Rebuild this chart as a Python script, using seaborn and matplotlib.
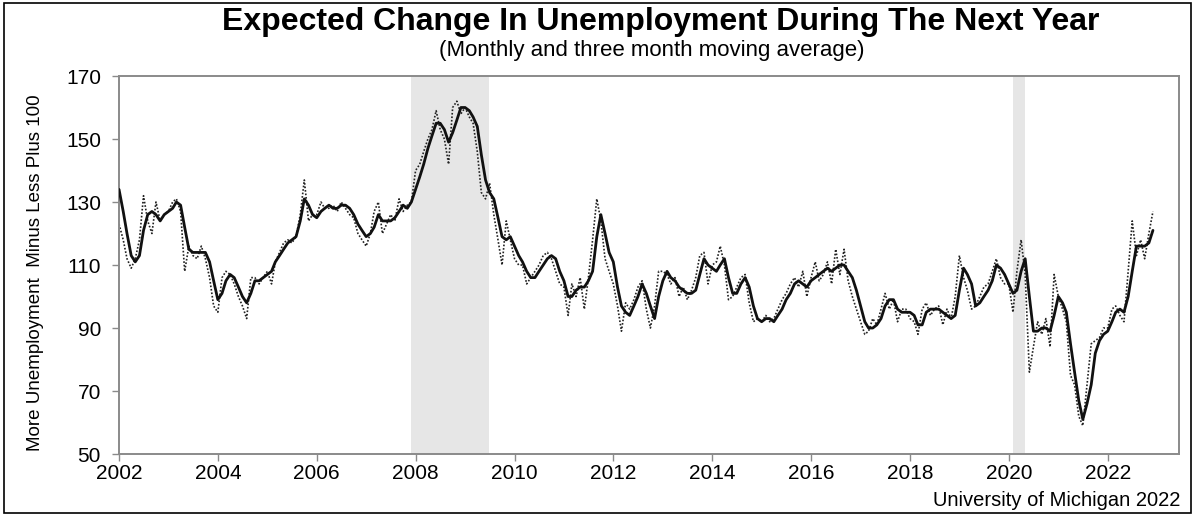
import matplotlib
matplotlib.use("Agg")
import matplotlib.pyplot as plt
import matplotlib.dates as mdates
from matplotlib.patches import Rectangle
import seaborn as sns
import pandas as pd

# ==========================
# Data (Jan 2002 - Dec 2022)
# ==========================
start_month = "2002-01-01"

# three month moving average (solid line)
avg_3m = [
    134, 127, 120, 113, 111, 113, 121, 126, 127, 126, 124, 126,  # 2002
    127, 128, 130, 129, 122, 115, 114, 114, 114, 114, 111, 105,  # 2003
    99, 101, 105, 107, 106, 103, 100, 98, 101, 105, 105, 106,    # 2004
    107, 108, 111, 113, 115, 117, 118, 119, 124, 131, 129, 126,  # 2005
    125, 127, 128, 129, 128, 128, 129, 129, 128, 126, 123, 121,  # 2006
    119, 120, 122, 126, 124, 124, 124, 125, 127, 129, 128, 130,  # 2007
    134, 138, 142, 147, 151, 155, 155, 153, 149, 152, 156, 160,  # 2008
    160, 159, 157, 154, 145, 137, 133, 131, 125, 119, 118, 119,  # 2009
    116, 113, 111, 108, 106, 106, 108, 110, 112, 113, 112, 108,  # 2010
    105, 100, 100, 102, 103, 103, 105, 108, 119, 126, 120, 114,  # 2011
    111, 103, 97, 95, 94, 97, 100, 104, 101, 97, 93, 100,        # 2012
    105, 108, 106, 105, 103, 102, 101, 101, 102, 107, 112, 110,  # 2013
    109, 108, 110, 112, 106, 101, 101, 104, 106, 103, 97, 93,    # 2014
    92, 93, 93, 92, 94, 96, 99, 101, 104, 105, 104, 103,         # 2015
    105, 106, 107, 108, 109, 108, 109, 110, 110, 108, 106, 102,  # 2016
    97, 92, 90, 90, 91, 93, 97, 99, 99, 96, 95, 95,              # 2017
    95, 94, 91, 91, 95, 96, 96, 96, 95, 94, 93, 94,              # 2018
    102, 109, 107, 104, 97, 98, 100, 102, 105, 110, 109, 107,    # 2019
    104, 101, 102, 108, 112, 100, 89, 89, 90, 90, 89, 94,        # 2020
    100, 98, 95, 85, 76, 67, 61, 66, 72, 82, 86, 88,             # 2021
    89, 92, 95, 96, 95, 100, 108, 116, 116, 116, 117, 121,       # 2022
]

# monthly readings (dotted line)
monthly = [
    123, 118, 112, 109, 112, 118, 132, 124, 120, 130, 124, 126,  # 2002
    127, 130, 131, 127, 108, 116, 113, 112, 116, 112, 106, 97,   # 2003
    95, 106, 108, 107, 104, 100, 97, 93, 106, 106, 104, 106,     # 2004
    108, 104, 111, 114, 117, 118, 117, 119, 126, 137, 124, 126,  # 2005
    126, 130, 128, 128, 129, 127, 130, 128, 126, 125, 120, 118,  # 2006
    116, 120, 127, 130, 120, 123, 126, 124, 131, 127, 129, 130,  # 2007
    140, 142, 146, 150, 153, 159, 153, 150, 142, 160, 162, 158,  # 2008
    160, 157, 155, 146, 133, 131, 136, 126, 118, 110, 124, 118,  # 2009
    112, 110, 110, 104, 106, 108, 110, 113, 114, 112, 108, 104,  # 2010
    103, 94, 104, 100, 106, 96, 106, 118, 131, 124, 112, 108,    # 2011
    104, 97, 89, 98, 96, 99, 103, 105, 96, 90, 97, 108,          # 2012
    108, 107, 104, 106, 100, 103, 99, 102, 106, 113, 114, 104,   # 2013
    110, 111, 116, 110, 99, 100, 103, 106, 107, 98, 92, 93,      # 2014
    92, 94, 92, 93, 96, 99, 101, 104, 106, 103, 108, 100,        # 2015
    106, 111, 105, 107, 111, 104, 115, 107, 115, 105, 100, 96,   # 2016
    92, 88, 89, 93, 91, 96, 101, 96, 99, 92, 96, 96,             # 2017
    93, 92, 88, 96, 98, 94, 96, 97, 91, 96, 93, 100,             # 2018
    113, 106, 102, 96, 97, 100, 103, 104, 108, 112, 106, 104,    # 2019
    104, 95, 108, 118, 107, 76, 84, 92, 88, 93, 84, 107,         # 2020
    100, 96, 92, 75, 72, 62, 59, 72, 85, 86, 87, 90,             # 2021
    90, 96, 97, 94, 92, 108, 124, 113, 118, 112, 120, 127,       # 2022
]

# recession periods (shaded)
recession_start = ["2007-12-01", "2020-02-01"]
recession_end = ["2009-06-30", "2020-04-30"]

y_ticks = [50, 70, 90, 110, 130, 150, 170]

dates = pd.date_range(start_month, periods=len(monthly), freq="MS")
df = pd.DataFrame({"date": dates, "monthly": monthly, "avg_3m": avg_3m})

# ==========================
# Figure
# ==========================
sns.set_style("ticks")
plt.rcParams["font.family"] = ["Liberation Sans", "DejaVu Sans"]
plt.rcParams["text.color"] = "black"
plt.rcParams["axes.labelcolor"] = "black"

fig = plt.figure(figsize=(11.95, 5.15), dpi=100)
ax = fig.add_axes([0.0996, 0.1184, 0.8874, 0.734])

for s, e in zip(recession_start, recession_end):
    ax.axvspan(pd.Timestamp(s), pd.Timestamp(e), color="#e6e6e6", lw=0, zorder=0)

sns.lineplot(data=df, x="date", y="monthly", ax=ax, color="#222222",
             lw=1.2, linestyle=(0, (1, 1.1)), zorder=2)
sns.lineplot(data=df, x="date", y="avg_3m", ax=ax, color="#111111",
             lw=2.0, zorder=3)

ax.set_ylim(50, 170)
ax.set_yticks(y_ticks)
ax.set_xlim(pd.Timestamp("2002-01-01"), pd.Timestamp("2023-06-15"))
ax.xaxis.set_major_locator(mdates.YearLocator(2))
ax.xaxis.set_major_formatter(mdates.DateFormatter("%Y"))

for sp in ax.spines.values():
    sp.set_color("#8a8a8a")
    sp.set_linewidth(1.4)
ax.tick_params(axis="both", colors="#8a8a8a", labelcolor="black",
               labelsize=15, length=5, width=1)
ax.tick_params(axis="y", pad=8)
ax.tick_params(axis="x", pad=2)

ax.set_xlabel("")
ax.set_ylabel("More Unemployment  Minus Less Plus 100", fontsize=13.5)
ax.yaxis.set_label_coords(-0.071, 0.48)

fig.text(0.553, 0.958, "Expected Change In Unemployment During The Next Year",
         ha="center", va="center", fontsize=23, fontweight="bold")
fig.text(0.545, 0.902, "(Monthly and three month moving average)",
         ha="center", va="center", fontsize=16)
fig.text(0.988, 0.028, "University of Michigan 2022", ha="right",
         va="center", fontsize=14.5)

fig.patches.append(Rectangle((0.003, 0.004), 0.994, 0.99, transform=fig.transFigure,
                             fill=False, edgecolor="black", lw=1.2))

fig.savefig("out.png", dpi=100)
